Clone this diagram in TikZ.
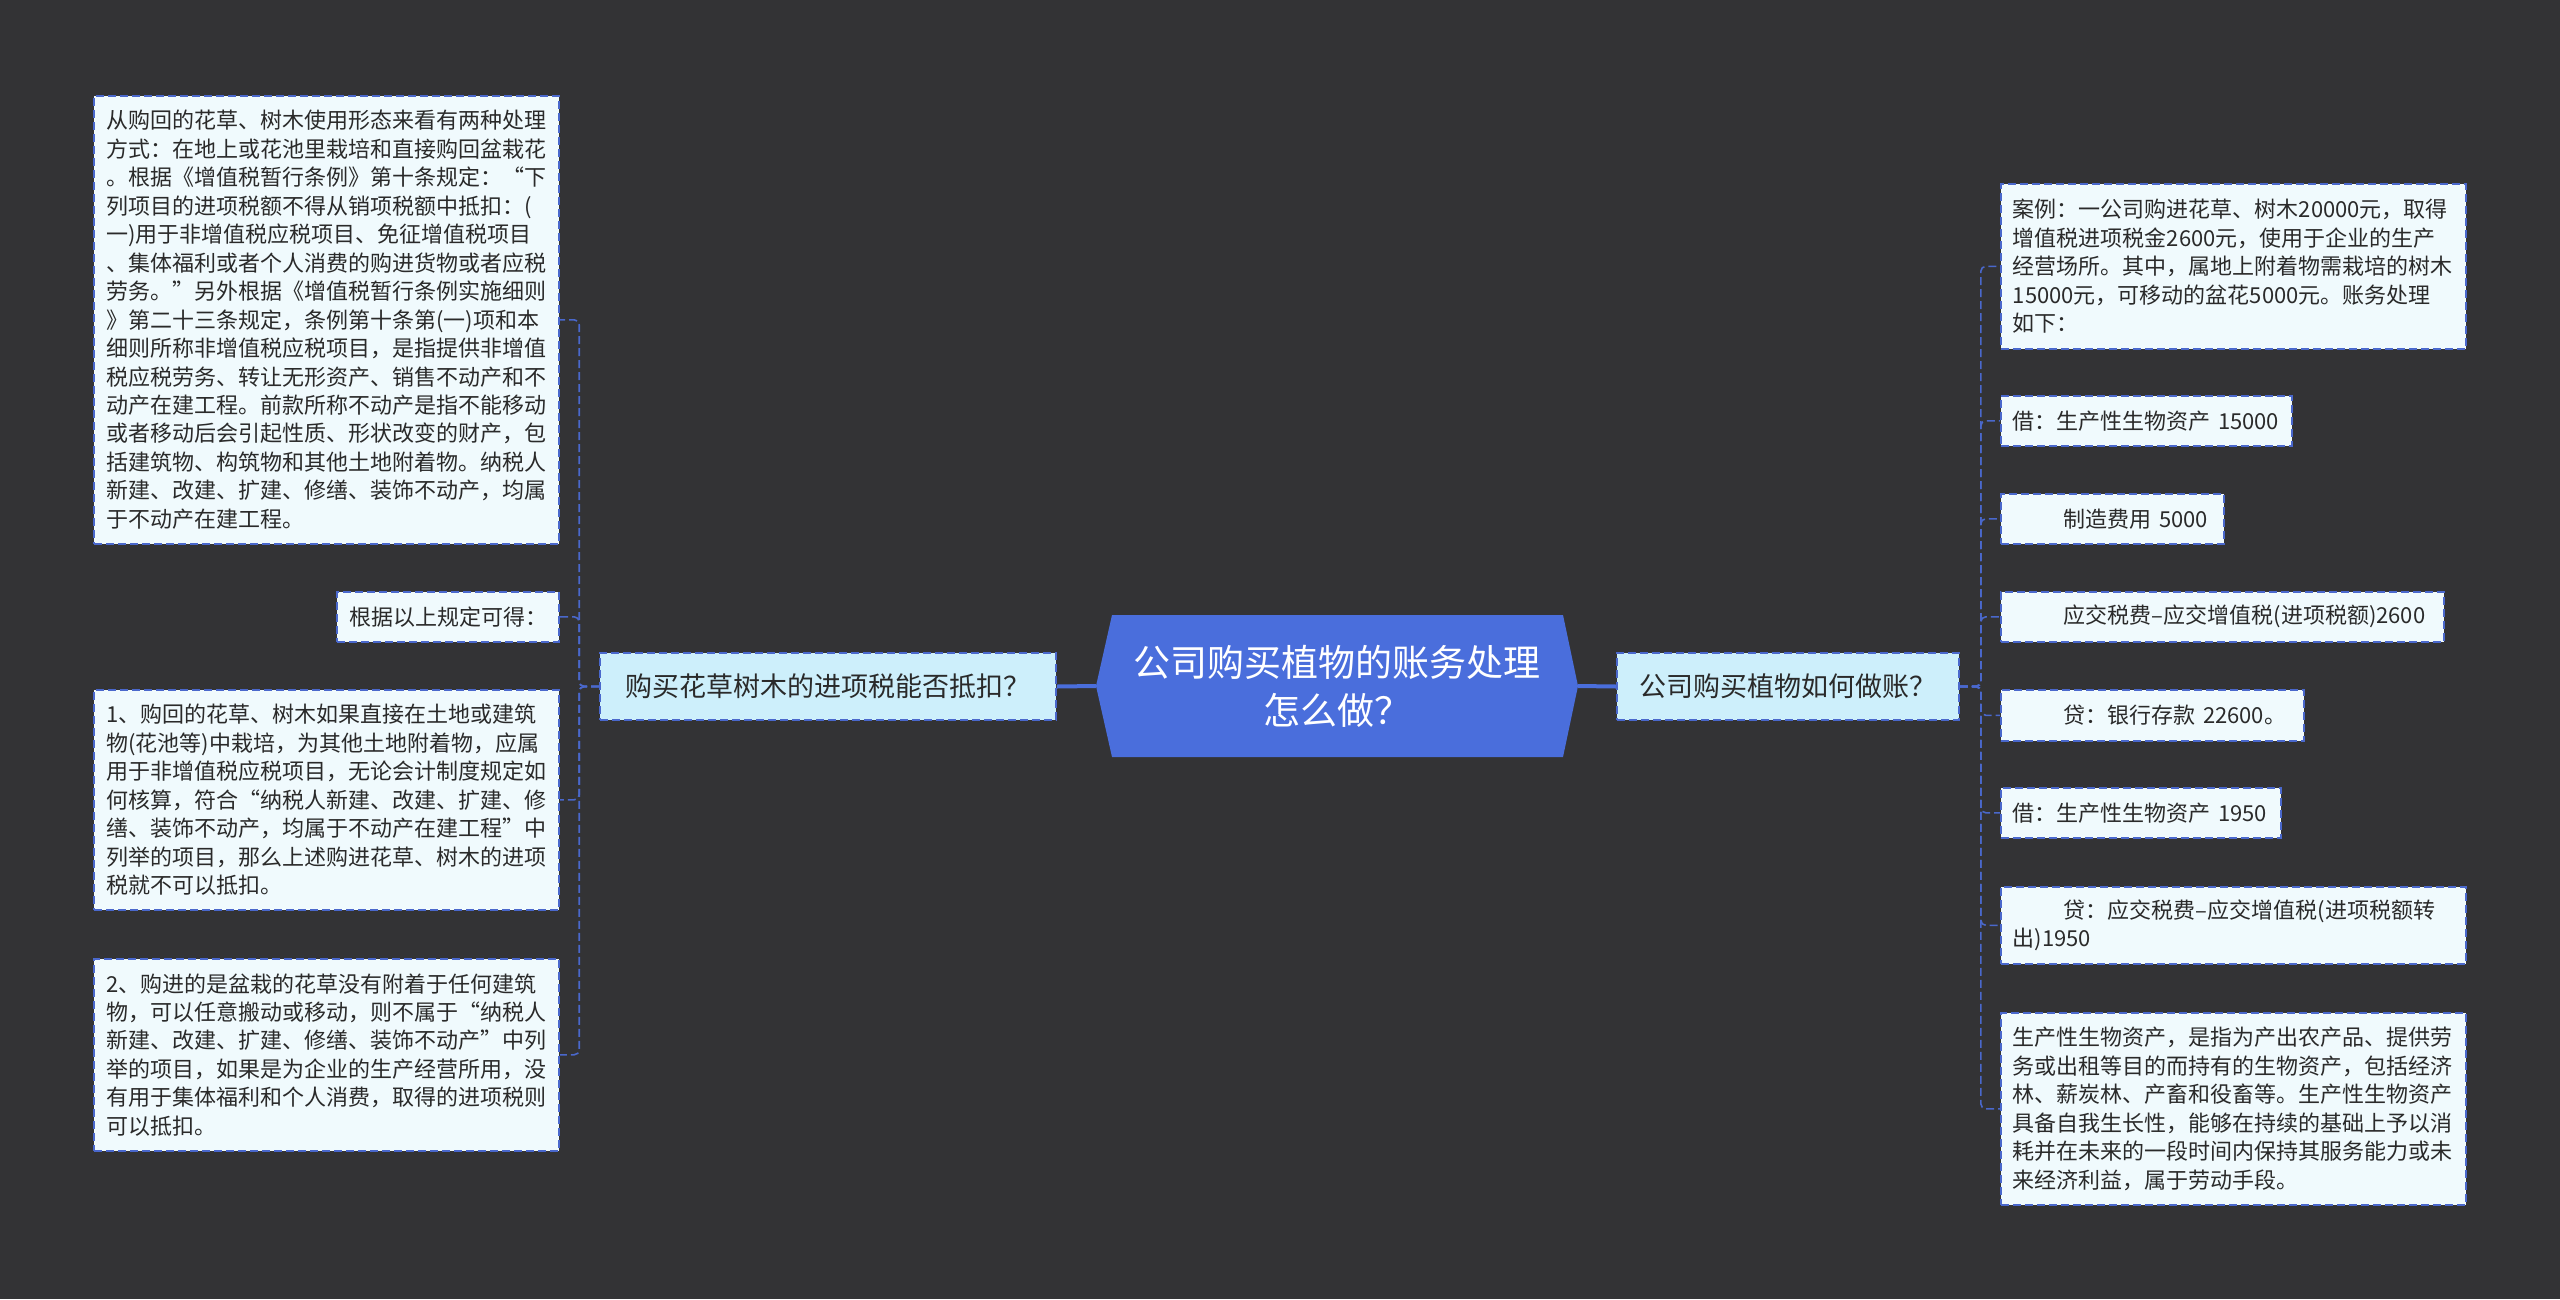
\documentclass[tikz,border=0pt]{standalone}
\usepackage{fontspec}
\setmainfont{Noto Sans CJK SC}

\definecolor{bgdark}{HTML}{333335}
\definecolor{rootblue}{HTML}{4A6EDC}
\definecolor{edgeblue}{HTML}{4A68CC}
\definecolor{subfill}{HTML}{CDEFFB}
\definecolor{leaffill}{HTML}{F0FAFD}
\definecolor{inkdark}{HTML}{2A2A2A}

\tikzset{
  leaf/.style={draw=edgeblue, line width=1.6pt, dash pattern=on 8pt off 4pt,
    fill=leaffill, text=inkdark, font=\fontsize{22pt}{28.45pt}\selectfont,
    align=left, inner xsep=12pt, inner ysep=0pt},
  lbox/.style={leaf, anchor=north east},
  rbox/.style={leaf, anchor=north west},
  subbox/.style={draw=edgeblue, line width=1.6pt, dash pattern=on 8pt off 4pt,
    fill=subfill, text=inkdark, font=\fontsize{27pt}{34pt}\selectfont,
    minimum height=67pt, inner sep=0pt},
  root/.style={text=white, font=\fontsize{37pt}{48pt}\selectfont, align=center,
    minimum width=482pt, minimum height=142pt, inner sep=0pt},
  trunk/.style={draw=rootblue, line width=4pt},
  link/.style={draw=edgeblue, line width=1.6pt, dash pattern=on 8pt off 4pt,
    rounded corners=5pt}
}

\begin{document}
\begin{tikzpicture}[x=1pt, y=-1pt]
\fill[bgdark] (0,0) rectangle (2560,1299);

% centre
\fill[rootblue] (1112,615) -- (1096,686) -- (1112,757) -- (1563,757) -- (1578,686) -- (1563,615) -- cycle;
\node[root] (root) at (1337,686) {公司购买植物的账务处理\\怎么做？};

\node[subbox, minimum width=456pt] (lsub) at (828,686.5) {购买花草树木的进项税能否抵扣？};
\node[subbox, minimum width=342pt] (rsub) at (1788,686.5) {公司购买植物如何做账？};

\draw[trunk] (root.west) -- (lsub.east);
\draw[trunk] (root.east) -- (rsub.west);

% left branch
\node[lbox, text width=441pt, minimum height=448pt] (l1) at (560,95) {从购回的花草、树木使用形态来看有两种处理\\方式：在地上或花池里栽培和直接购回盆栽花\\。根据《增值税暂行条例》第十条规定：“下\\列项目的进项税额不得从销项税额中抵扣：(\\一)用于非增值税应税项目、免征增值税项目\\、集体福利或者个人消费的购进货物或者应税\\劳务。”另外根据《增值税暂行条例实施细则\\》第二十三条规定，条例第十条第(一)项和本\\细则所称非增值税应税项目，是指提供非增值\\税应税劳务、转让无形资产、销售不动产和不\\动产在建工程。前款所称不动产是指不能移动\\或者移动后会引起性质、形状改变的财产，包\\括建筑物、构筑物和其他土地附着物。纳税人\\新建、改建、扩建、修缮、装饰不动产，均属\\于不动产在建工程。};
\node[lbox, text width=198pt, minimum height=50pt] (l2) at (560,591) {根据以上规定可得：};
\node[lbox, text width=441pt, minimum height=220pt] (l3) at (560,689) {1、购回的花草、树木如果直接在土地或建筑\\物(花池等)中栽培，为其他土地附着物，应属\\用于非增值税应税项目，无论会计制度规定如\\何核算，符合“纳税人新建、改建、扩建、修\\缮、装饰不动产，均属于不动产在建工程”中\\列举的项目，那么上述购进花草、树木的进项\\税就不可以抵扣。};
\node[lbox, text width=441pt, minimum height=192pt] (l4) at (560,958) {2、购进的是盆栽的花草没有附着于任何建筑\\物，可以任意搬动或移动，则不属于“纳税人\\新建、改建、扩建、修缮、装饰不动产”中列\\举的项目，如果是为企业的生产经营所用，没\\有用于集体福利和个人消费，取得的进项税则\\可以抵扣。};

\draw[link] (lsub.west) -- ++(-20,0) |- (l1.east);
\draw[link] (lsub.west) -- ++(-20,0) |- (l2.east);
\draw[link] (lsub.west) -- ++(-20,0) |- (l3.east);
\draw[link] (lsub.west) -- ++(-20,0) |- (l4.east);

% right branch
\node[rbox, text width=441pt, minimum height=165pt] (r1) at (2000,183) {案例：一公司购进花草、树木20000元，取得\\增值税进项税金2600元，使用于企业的生产\\经营场所。其中，属地上附着物需栽培的树木\\15000元，可移动的盆花5000元。账务处理\\如下：};
\node[rbox, text width=267pt, minimum height=50pt] (r2) at (2000,395) {借：生产性生物资产~15000};
\node[rbox, text width=199pt, minimum height=50pt] (r3) at (2000,493) {\hspace*{51pt}制造费用~5000};
\node[rbox, text width=419pt, minimum height=50pt] (r4) at (2000,591) {\hspace*{51pt}应交税费–应交增值税(进项税额)2600};
\node[rbox, text width=279pt, minimum height=51pt] (r5) at (2000,689) {\hspace*{51pt}贷：银行存款~22600。};
\node[rbox, text width=256pt, minimum height=50pt] (r6) at (2000,787) {借：生产性生物资产~1950};
\node[rbox, text width=441pt, minimum height=77pt] (r7) at (2000,886) {\hspace*{51pt}贷：应交税费–应交增值税(进项税额转\\出)1950};
\node[rbox, text width=441pt, minimum height=192pt] (r8) at (2000,1012) {生产性生物资产，是指为产出农产品、提供劳\\务或出租等目的而持有的生物资产，包括经济\\林、薪炭林、产畜和役畜等。生产性生物资产\\具备自我生长性，能够在持续的基础上予以消\\耗并在未来的一段时间内保持其服务能力或未\\来经济利益，属于劳动手段。};

\draw[link] (rsub.east) -- ++(21,0) |- (r1.west);
\draw[link] (rsub.east) -- ++(21,0) |- (r2.west);
\draw[link] (rsub.east) -- ++(21,0) |- (r3.west);
\draw[link] (rsub.east) -- ++(21,0) |- (r4.west);
\draw[link] (rsub.east) -- ++(21,0) |- (r5.west);
\draw[link] (rsub.east) -- ++(21,0) |- (r6.west);
\draw[link] (rsub.east) -- ++(21,0) |- (r7.west);
\draw[link] (rsub.east) -- ++(21,0) |- (r8.west);
\end{tikzpicture}
\end{document}
